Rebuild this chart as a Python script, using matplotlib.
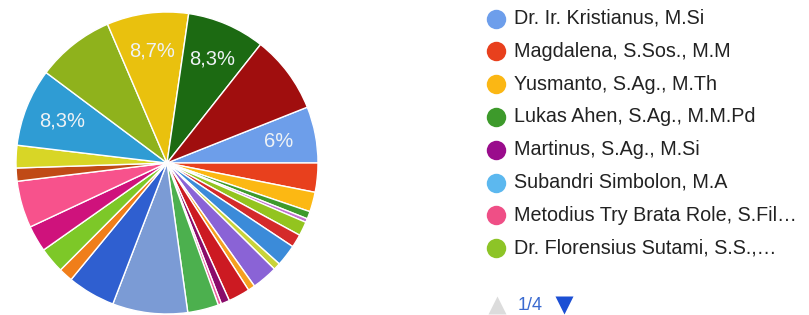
import matplotlib.pyplot as plt
import numpy as np

# slice shares (%) going clockwise from the "6%" slice
values = [6.0, 3.1, 2.1, 0.8, 0.4, 1.5, 1.4, 2.3, 0.75, 2.75, 0.75, 2.3, 0.9, 0.35,
          3.3, 8.0, 5.1, 1.5, 2.75, 2.8, 5.0, 1.4, 2.4, 8.3, 8.3, 8.7, 8.3, 8.3]
slice_colors = ["#6d9eea", "#e8401d", "#fcb813", "#3e9a2c", "#c070d0", "#93c41f",
                "#d42a2a", "#3b8bd9", "#c9d33a", "#8a63d6", "#f5a020", "#cc1a22",
                "#8a0c6a", "#ee5ea0", "#4cb04e", "#7b9bd5", "#2f5fd0", "#f07e1a",
                "#7dc828", "#cf127c", "#f7528c", "#c04a16", "#d8d626", "#2f9cd4",
                "#8fb21c", "#e9c10e", "#1c6a12", "#a00e0e"]
slice_labels = ["6%"] + [""] * 22 + ["8,3%", "", "8,7%", "8,3%", ""]

legend_names = ["Dr. Ir. Kristianus, M.Si", "Magdalena, S.Sos., M.M",
                "Yusmanto, S.Ag., M.Th", "Lukas Ahen, S.Ag., M.M.Pd",
                "Martinus, S.Ag., M.Si", "Subandri Simbolon, M.A",
                "Metodius Try Brata Role, S.Fil…", "Dr. Florensius Sutami, S.S.,…"]
legend_colors = ["#6d9eeb", "#e8401d", "#fbb714", "#3d9a2b",
                 "#9a0c8c", "#5cb8ef", "#ef4f86", "#8dc427"]
page_text = "1/4"

W, H = 809, 315
fig = plt.figure(figsize=(W / 100, H / 100), dpi=100)
plt.rcParams["font.family"] = ["Liberation Sans", "DejaVu Sans"]

# pie
ax = fig.add_axes([16 / W, 1 / H, 302 / W, 302 / H])
wedges, _ = ax.pie(values, colors=slice_colors, startangle=21.7, counterclock=False,
                   radius=1.0, wedgeprops=dict(edgecolor="white", linewidth=1.0))
ax.set_xlim(-1, 1)
ax.set_ylim(-1, 1)
ax.set_aspect("equal")
for w, lab in zip(wedges, slice_labels):
    if not lab:
        continue
    mid = np.deg2rad((w.theta1 + w.theta2) / 2)
    ax.text(0.75 * np.cos(mid), 0.75 * np.sin(mid), lab, color="#eef2f5",
            fontsize=14.5, ha="center", va="center")

# legend drawn in pixel coordinates
lx = fig.add_axes([0, 0, 1, 1])
lx.set_xlim(0, W)
lx.set_ylim(H, 0)
lx.axis("off")
lx.patch.set_visible(False)
for i, (name, c) in enumerate(zip(legend_names, legend_colors)):
    y = 18.5 + 32.8 * i
    lx.plot(496, y, "o", ms=14, color=c, mec="none")
    lx.text(514, y, name, fontsize=14.2, color="#222222", va="center", ha="left")

lx.plot(497, 305, "^", ms=13, color="#dcdcdc", mec="none")
lx.text(518, 305, page_text, fontsize=13, color="#3a6ad0", va="center", ha="left")
lx.plot(564, 305, "v", ms=13, color="#1c4fd4", mec="none")

fig.savefig("out.png", dpi=100)
